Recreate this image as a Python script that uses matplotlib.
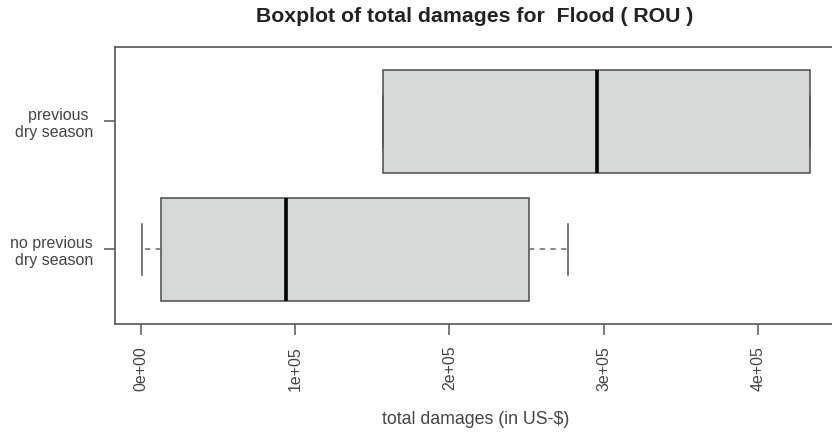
import matplotlib
matplotlib.use("Agg")
import matplotlib.pyplot as plt

plt.rcParams['font.family'] = ['Liberation Sans', 'DejaVu Sans']

# Five-number summaries (whisker low, Q1, median, Q3, whisker high) in US-$
groups = ["no previous\ndry season", "previous \ndry season"]
whislo = [500, 157000]
q1 = [12800, 157000]
med = [93800, 295700]
q3 = [251400, 433800]
whishi = [277100, 433800]

x_ticks = [0, 100000, 200000, 300000, 400000]
x_tick_labels = ["0e+00", "1e+05", "2e+05", "3e+05", "4e+05"]

title = "Boxplot of total damages for  Flood ( ROU )"
xlabel = "total damages (in US-$)"

stats = []
for i, name in enumerate(groups):
    stats.append(dict(label=name, whislo=whislo[i], q1=q1[i], med=med[i],
                      q3=q3[i], whishi=whishi[i], fliers=[]))

fig = plt.figure(figsize=(8.32, 4.33), dpi=100)
ax = fig.add_axes([115 / 832, 1 - 323.7 / 433, (836.6 - 115) / 832, (323.7 - 47) / 433])

edge = "#4a4a4a"
ax.bxp(stats, positions=[1, 2], widths=0.8, orientation='horizontal',
       patch_artist=True, showfliers=False,
       boxprops=dict(facecolor="#d6d8d8", edgecolor=edge, linewidth=1.1),
       medianprops=dict(color="black", linewidth=2.6, solid_capstyle='butt'),
       whiskerprops=dict(color="#666666", linewidth=1.1, linestyle=(0, (3.5, 3.5))),
       capprops=dict(color="#555555", linewidth=1.1),
       capwidths=0.4)

lo = min(whislo)
hi = max(whishi)
pad = 0.04 * (hi - lo)
ax.set_xlim(lo - pad, hi + pad)
ax.set_ylim(0.5 - 0.08, 2.5 + 0.08)

ax.set_xticks(x_ticks)
ax.set_xticklabels(x_tick_labels, rotation=90, va='top', ha='center')
ax.set_yticks([1, 2])
ax.set_yticklabels(groups, multialignment='right')

txt = "#444444"
ax.tick_params(axis='both', length=7.9, width=1.1, color="#555555",
               labelsize=11.5, labelcolor=txt, pad=8)
for s in ax.spines.values():
    s.set_color("#555555")
    s.set_linewidth(1.2)

fig.text(475 / 832, 1 - 17 / 433, title, ha='center', va='center',
         fontsize=15.3, fontweight='bold', color="#222222")
fig.text(476 / 832, 1 - 420 / 433, xlabel, ha='center', va='center',
         fontsize=12.8, color=txt)

fig.savefig("out.png", dpi=100)
